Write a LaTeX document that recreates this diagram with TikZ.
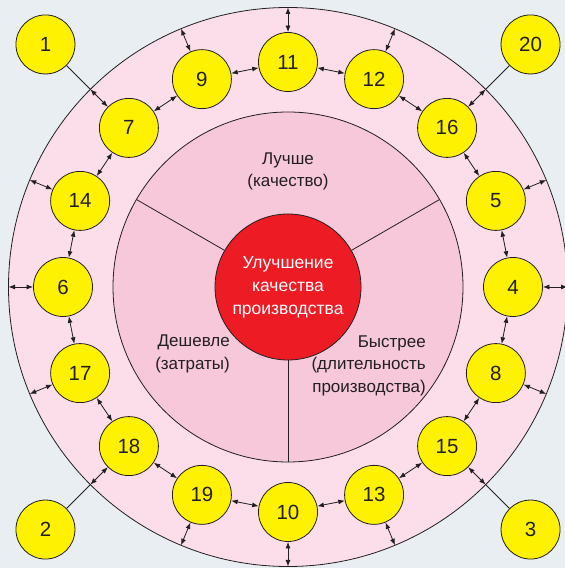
\documentclass[tikz,border=0pt]{standalone}
\usepackage{fontspec}
\setmainfont{Liberation Sans}
\usetikzlibrary{arrows.meta,calc}
\definecolor{bg}{RGB}{232,238,241}
\definecolor{ring}{RGB}{251,222,234}
\definecolor{innerpink}{RGB}{246,200,218}
\definecolor{redc}{RGB}{237,28,36}
\definecolor{yel}{RGB}{255,242,0}
\definecolor{ink}{RGB}{35,31,32}
\tikzset{
  ynode/.style={circle, draw=ink, line width=0.8pt, fill=yel, minimum size=59pt, inner sep=0pt,
    text=ink, font=\fontsize{20.5}{24}\selectfont},
  dbl/.style={draw=ink, line width=0.8pt, {Latex[length=6.5pt,width=5pt]}-{Latex[length=6.5pt,width=5pt]}},
  conn/.style={draw=ink, line width=0.8pt},
  lbl/.style={inner sep=0pt, text=ink, font=\fontsize{17}{22.5}\selectfont},
}
\begin{document}
\begin{tikzpicture}[x=1pt,y=1pt]
\fill[bg] (0,0) rectangle (565,568);
\useasboundingbox (0,0) rectangle (565,568);
\clip (0,0) rectangle (565,568);
\coordinate (c) at (288,281);
\draw[ink, line width=0.8pt, fill=ring] (c) circle (279.5);
\draw[ink, line width=0.8pt, fill=innerpink] (c) circle (175);
\node[circle, minimum size=146pt, inner sep=0pt, fill=redc, draw=ink, line width=0.8pt,
  text=white, align=center, font=\fontsize{17.5}{23}\selectfont] (core) at (c)
  {Улучшение\\качества\\производства};
\foreach \a in {30,150,270} {
  \coordinate (d\a) at ($(c)+(\a:175)$);
  \draw[conn] (core) -- (d\a);
}
\node[lbl, align=center] (better) at (288,396.5) {Лучше\\(качество)};
\node[lbl, align=right, anchor=east] (cheaper) at (230,214) {Дешевле\\(затраты)};
\node[lbl, align=right, anchor=east] (faster) at (426,202.5) {Быстрее\\(длительность\\производства)};
\foreach \n/\a in {11/90, 9/112.5, 7/135, 14/157.5, 6/180, 17/202.5, 18/225, 19/247.5,
                   10/270, 13/292.5, 15/315, 8/337.5, 4/0, 5/22.5, 16/45, 12/67.5} {
  \node[ynode] (n\n) at ($(c)+(\a:225)$) {\n};
  \coordinate (o\n) at ($(c)+(\a:279.5)$);
  \draw[dbl] (n\n) -- (o\n);
}
\foreach \p/\q in {11/9, 9/7, 7/14, 14/6, 6/17, 17/18, 18/19, 19/10, 10/13, 13/15,
                   15/8, 8/4, 4/5, 5/16, 16/12, 12/11} {
  \draw[dbl] (n\p) -- (n\q);
}
\foreach \n/\a/\m in {1/135/7, 20/45/16, 2/225/18, 3/315/15} {
  \node[ynode] (n\n) at ($(c)+(\a:343)$) {\n};
  \draw[conn] (n\n) -- (o\m);
}
\end{tikzpicture}
\end{document}
